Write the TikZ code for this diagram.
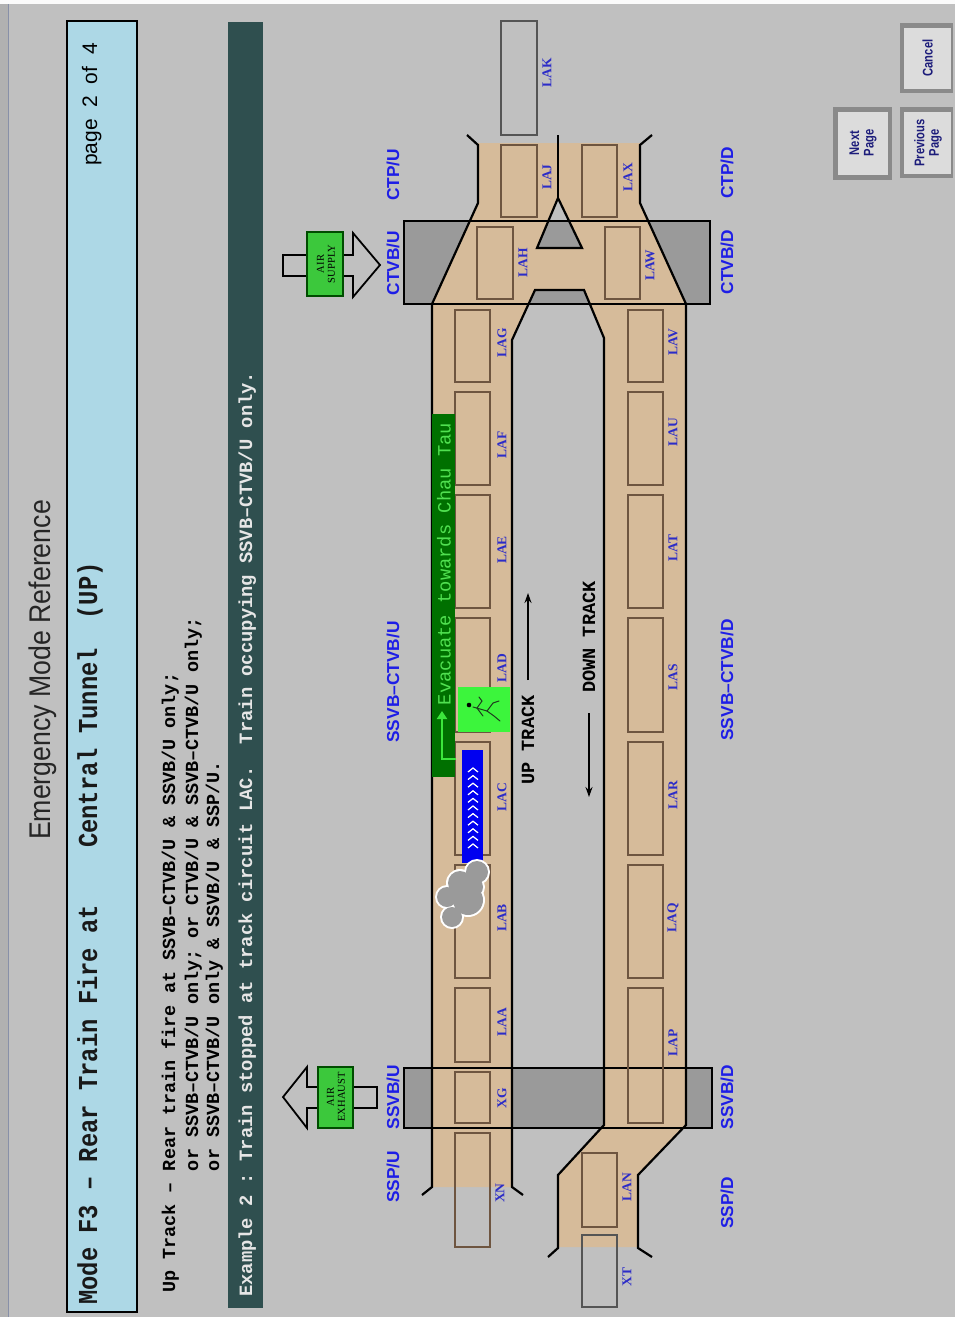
\documentclass[tikz,border=0pt]{standalone}
\usepackage{fontspec}
\usepackage{graphicx}
\usetikzlibrary{arrows.meta}
\newfontfamily\fmono{Liberation Mono}
\newfontfamily\fsans{Liberation Sans}
\newfontfamily\fserif{Liberation Serif}
\frenchspacing

\definecolor{bg}{HTML}{C0C0C0}
\definecolor{hdrblue}{HTML}{ADD8E6}
\definecolor{slate}{HTML}{2F4F4F}
\definecolor{tanfill}{HTML}{D6BB9A}
\definecolor{boxgray}{HTML}{9A9A9A}
\definecolor{ckline}{HTML}{6E5540}
\definecolor{ckout}{HTML}{555555}
\definecolor{stnblue}{HTML}{1E1EE6}
\definecolor{tcblue}{HTML}{2C2CC8}
\definecolor{evacgreen}{HTML}{007000}
\definecolor{evactext}{HTML}{50E050}
\definecolor{brightgreen}{HTML}{3CE63C}
\definecolor{personbox}{HTML}{3CF53C}
\definecolor{airgreen}{HTML}{3CC83C}
\definecolor{trainblue}{HTML}{0000F0}
\definecolor{smoke}{HTML}{9A9A9A}
\definecolor{btnface}{HTML}{DCDCDC}
\definecolor{btnedge}{HTML}{8A8A8A}
\definecolor{btntext}{HTML}{1C1C7A}
\definecolor{bandtext}{HTML}{E6E6E6}

\tikzset{
  rtext/.style={rotate=90, inner sep=0pt},
  stn/.style={rtext, font=\fsans\bfseries\fontsize{17.3}{20}\selectfont, text=stnblue},
  tcl/.style={rtext, font=\fserif\bfseries\fontsize{13.5}{15}\selectfont, text=tcblue},
  monoline/.style={rtext, anchor=base west, font=\fmono\bfseries\fontsize{18.45}{22}\selectfont},
  cbox/.style={draw=ckline, line width=1.2pt},
  obox/.style={draw=ckout, line width=1.2pt},
  wall/.style={draw=black, line width=2.2pt, line join=miter},
  airtext/.style={rtext, align=center, font=\fserif\fontsize{10.5}{11}\selectfont},
  btn/.style={rtext, align=center, font=\fsans\bfseries\fontsize{14}{14.5}\selectfont, text=btntext},
  dirtext/.style={rtext, font=\fmono\bfseries\fontsize{18.6}{22}\selectfont},
}

% track circuit box with its label: [style]{x1}{y1}{x2}{y2}{label x}{label y}{name}
\newcommand{\trackckt}[8][cbox]{%
  \draw[#1] (#2,#3) rectangle (#4,#5);
  \node[tcl] (tc-#8) at (#6,#7) {#8};}

\begin{document}
\begin{tikzpicture}[x=1pt,y=-1pt]
% window background and frame
\fill[bg] (0,0) rectangle (955,1317);
\useasboundingbox (0,0) rectangle (955,1317);
\fill[white!93!bg] (0,0) rectangle (955,4);
\fill[bg!92!black] (0,4) rectangle (8,1317);
\draw[color={rgb,255:red,136;green,144;blue,168}, line width=1.5pt] (8.5,4) -- (8.5,1317);

% page title
\node[rtext, anchor=base, font=\fsans\fontsize{26.7}{30}\selectfont, text=black!85] (title) at (50,670)
  {\scalebox{1}[1.12]{Emergency Mode Reference}};

% header bar
\draw[fill=hdrblue, line width=2pt] (67,21) rectangle (137,1312);
\node[rtext, anchor=base west, font=\fmono\bfseries\fontsize{23.8}{28}\selectfont, text=black!90] (mode) at (97,1305)
  {\scalebox{1}[1.15]{Mode F3 – Rear Train Fire at\ \ \ \ Central Tunnel\ \ (UP)}};
\node[rtext, anchor=base west, font=\fsans\fontsize{21}{24}\selectfont] (page) at (97,166) {page\ \ 2\ \ of\ \ 4};

% condition text
\node[monoline] (up1) at (175,1293) {Up Track – Rear train fire at SSVB–CTVB/U \& SSVB/U only;};
\node[monoline] (up2) at (198,1293) {\hphantom{Up Track – }or SSVB–CTVB/U only; or CTVB/U \& SSVB–CTVB/U only;};
\node[monoline] (up3) at (219,1293) {\hphantom{Up Track – }or SSVB–CTVB/U only \& SSVB/U \& SSP/U.};

% example band
\fill[slate] (228,22) rectangle (263,1308);
\node[rtext, anchor=base west, font=\fmono\bfseries\fontsize{18.8}{22}\selectfont, text=bandtext] (example) at (252,1297)
  {Example 2 : Train stopped at track circuit LAC.\ \ Train occupying SSVB–CTVB/U only.};

% ventilation building blocks
\fill[boxgray] (404,221) rectangle (710,304);
\fill[boxgray] (404,1068) rectangle (712,1128);

% tunnel floor
\fill[tanfill, even odd rule]
  (478,143) -- (640,143) -- (640,203) -- (686,304) -- (686,1125) -- (638,1175) -- (638,1247)
  -- (558,1247) -- (558,1175) -- (604,1125) -- (604,338) -- (584,290) -- (535,290) -- (512,340)
  -- (512,1187) -- (432,1187) -- (432,304) -- (478,203) -- cycle
  (558,198) -- (537,248) -- (582,248) -- cycle;

\draw[line width=2pt] (404,221) rectangle (710,304);
\draw[line width=2pt] (404,1068) rectangle (712,1128);

% track circuits, up track
\trackckt[obox]{501}{21}{537}{135}{547}{73}{LAK}
\trackckt{501}{145}{537}{217}{547}{177}{LAJ}
\trackckt{477}{227}{513}{299}{523}{263}{LAH}
\trackckt{455}{310}{490}{382}{502}{343}{LAG}
\trackckt{455}{392}{490}{485}{502}{445}{LAF}
\trackckt{455}{495}{490}{608}{502}{550}{LAE}
\trackckt{455}{618}{490}{732}{502}{668}{LAD}
\trackckt{455}{742}{490}{855}{502}{797}{LAC}
\trackckt{455}{865}{490}{978}{502}{918}{LAB}
\trackckt{455}{988}{490}{1062}{502}{1022}{LAA}
\trackckt{455}{1072}{490}{1123}{502}{1098}{XG}
\trackckt{455}{1133}{490}{1247}{500}{1193}{XN}
% track circuits, down track
\trackckt{582}{145}{617}{217}{628}{177}{LAX}
\trackckt{605}{227}{640}{299}{650}{265}{LAW}
\trackckt{628}{310}{663}{382}{673}{342}{LAV}
\trackckt{628}{392}{663}{485}{673}{432}{LAU}
\trackckt{628}{495}{663}{608}{673}{548}{LAT}
\trackckt{628}{618}{663}{732}{673}{677}{LAS}
\trackckt{628}{742}{663}{855}{673}{795}{LAR}
\trackckt{628}{865}{663}{978}{673}{918}{LAQ}
\trackckt{628}{988}{663}{1123}{673}{1043}{LAP}
\trackckt{582}{1153}{617}{1227}{627}{1187}{LAN}
\trackckt[obox]{582}{1235}{617}{1307}{627}{1277}{XT}

% tunnel walls
\draw[wall] (467,135) -- (478,145) -- (478,203) -- (432,304) -- (432,1187) -- (422,1195);
\draw[wall] (523,1195) -- (512,1187) -- (512,340) -- (535,290) -- (584,290) -- (604,338)
  -- (604,1125) -- (558,1175) -- (558,1248) -- (548,1257);
\draw[wall] (652,135) -- (640,145) -- (640,203) -- (686,304) -- (686,1125) -- (638,1175)
  -- (638,1248) -- (652,1257);
\draw[wall] (558,135) -- (558,198);
\draw[wall] (558,198) -- (537,248) -- (582,248) -- cycle;

% location labels
\node[stn] (ctpu) at (393,175) {CTP/U};
\node[stn] (ctvbu) at (393,263) {CTVB/U};
\node[stn] (midu) at (393,682) {SSVB–CTVB/U};
\node[stn] (ssvbu) at (393,1097) {SSVB/U};
\node[stn] (sspu) at (393,1177) {SSP/U};
\node[stn] (ctpd) at (727,173) {CTP/D};
\node[stn] (ctvbd) at (727,262) {CTVB/D};
\node[stn] (midd) at (727,680) {SSVB–CTVB/D};
\node[stn] (ssvbd) at (727,1097) {SSVB/D};
\node[stn] (sspd) at (727,1203) {SSP/D};

% running direction
\node[dirtext] (uptrack) at (528,740) {UP TRACK};
\coordinate (upA) at (528,680);
\coordinate (upB) at (528,593);
\draw[line width=1.6pt, -{Stealth[length=10pt,width=7pt]}] (upA) -- (upB);
\node[dirtext] (dntrack) at (589,637) {DOWN TRACK};
\coordinate (dnA) at (589,713);
\coordinate (dnB) at (589,797);
\draw[line width=1.6pt, -{Stealth[length=10pt,width=7pt]}] (dnA) -- (dnB);

% evacuation route
\fill[evacgreen] (432,414) rectangle (455,777);
\node[rtext, font=\fmono\fontsize{18.8}{22}\selectfont, text=evactext] (evac) at (444,564) {Evacuate towards Chau Tau};
\coordinate (evA) at (456,759);
\coordinate (evB) at (442,759);
\coordinate (evC) at (442,711);
\draw[brightgreen, line width=2.2pt, -{Triangle[width=10pt,length=8pt]}] (evA) -- (evB) -- (evC);

% walking figure
\fill[personbox] (458,687) rectangle (510,732);
\begin{scope}[draw={rgb,255:red,30;green,60;blue,30}, line width=1pt, line cap=round]
  \fill[black] (469,705) circle[radius=2.3];
  \draw (473,707) -- (487,711);
  \draw (477,708) -- (482,701) -- (479,697);
  \draw (477,708) -- (483,716);
  \draw (487,711) -- (493,703) -- (499,701);
  \draw (487,711) -- (494,716) -- (500,721);
\end{scope}

% stopped train
\fill[trainblue] (462,750) rectangle (483,863);
\foreach \i in {0,...,10} {
  \draw[white, line width=1.2pt] (468,{772+7.6*\i}) -- (473,{768+7.6*\i}) -- (478,{772+7.6*\i});
}

% smoke
\foreach \cx/\cy/\r in {477/872/11, 460/883/12, 473/887/10, 447/897/10, 468/900/15, 452/917/10}
  \fill[white] (\cx,\cy) circle[radius=\r+2];
\foreach \cx/\cy/\r in {477/872/11, 460/883/12, 473/887/10, 447/897/10, 468/900/15, 452/917/10}
  \fill[smoke] (\cx,\cy) circle[radius=\r];

% air supply fan
\draw[line width=1.8pt, line join=miter] (283,255) -- (353,255) -- (353,233) -- (380,265) -- (353,297) -- (353,276) -- (283,276) -- cycle;
\draw[fill=airgreen, draw=black!70!green, line width=1.2pt] (307,232) rectangle (343,296);
\node[airtext] (airsup) at (326,264) {AIR\\SUPPLY};

% air exhaust fan
\draw[line width=1.8pt, line join=miter] (377,1087) -- (307,1087) -- (307,1067) -- (283,1097) -- (307,1128) -- (307,1108) -- (377,1108) -- cycle;
\draw[fill=airgreen, draw=black!70!green, line width=1.2pt] (318,1067) rectangle (353,1128);
\node[airtext] (airexh) at (336,1097) {AIR\\EXHAUST};

% buttons
\fill[btnedge] (900,23) rectangle (953,93);
\fill[btnface] (904,28) rectangle (951,89);
\node[btn] (cancel) at (927.5,58) {\scalebox{0.8}[1]{Cancel}};
\fill[btnedge] (900,107) rectangle (953,178);
\fill[btnface] (904,112) rectangle (951,174);
\node[btn] (prev) at (928,143) {\scalebox{0.8}[1]{Previous}\\\scalebox{0.8}[1]{Page}};
\fill[btnedge] (833,107) rectangle (892,180);
\fill[btnface] (838,112) rectangle (888,175);
\node[btn] (next) at (863,143) {\scalebox{0.8}[1]{Next}\\\scalebox{0.8}[1]{Page}};
\end{tikzpicture}
\end{document}
